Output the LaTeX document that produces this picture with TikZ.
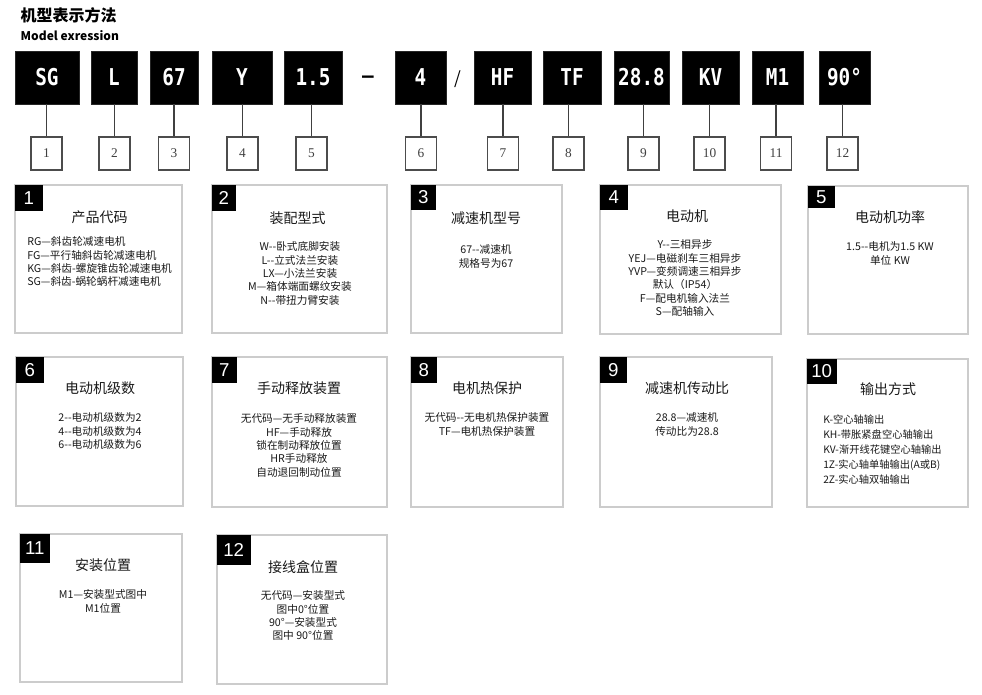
\documentclass[tikz,border=0pt]{standalone}
\usepackage{fontspec}
\usepackage{graphicx}
\newfontfamily\cnfont{Noto Sans CJK SC}
\newfontfamily\codefont{DejaVu Sans Mono}
\newfontfamily\tabfont{Liberation Sans}
\newfontfamily\numfont{Liberation Serif}
\newcommand{\codetxt}[1]{\scalebox{1}[1.2]{#1}}

\begin{document}
\begin{tikzpicture}[x=0.75pt,y=-0.75pt,
    code/.style={fill=black,draw=black!85,text=white,inner sep=0pt,minimum height=39.75pt,
      font=\codefont\bfseries\fontsize{14.5}{16}\selectfont},
    numbox/.style={draw=black!70,line width=0.9pt,fill=white,inner sep=0pt,
      minimum width=23.25pt,minimum height=24.75pt,text=black!75,font=\numfont\fontsize{10}{12}\selectfont},
    link/.style={draw=black!75,line width=0.8pt},
    info/.style={draw=black!20,line width=0.8pt,inner sep=0pt},
    tab/.style={fill=black,text=white,anchor=north west,inner sep=0pt,
      font=\tabfont\fontsize{14}{14}\selectfont},
    head/.style={text=black!90,font=\cnfont\fontsize{10.5}{12}\selectfont},
    body/.style={align=center,anchor=north,inner sep=0pt,text=black!90,
      font=\cnfont\fontsize{8}{10}\selectfont}]
  \useasboundingbox (0,0) rectangle (982,694);

  \node[anchor=west,font=\cnfont\bfseries\fontsize{12}{14}\selectfont] (title) at (16,15.5) {机型表示方法};
  \node[anchor=west,font=\cnfont\bfseries\fontsize{9}{11}\selectfont] (subtitle) at (16,36) {Model exression};

  \node[code,minimum width=48pt] (c1) at (47,77.5) {\codetxt{SG}};
  \node[code,minimum width=34.5pt] (c2) at (114,77.5) {\codetxt{L}};
  \node[code,minimum width=36pt] (c3) at (174,77.5) {\codetxt{67}};
  \node[code,minimum width=45pt] (c4) at (242,77.5) {\codetxt{Y}};
  \node[code,minimum width=43.5pt] (c5) at (313,77.5) {\codetxt{1.5}};
  \node[font=\codefont\bfseries\fontsize{14.5}{16}\selectfont] (dash) at (368,79) {—};
  \node[code,minimum width=38.25pt] (c6) at (420.5,77.5) {\codetxt{4}};
  \node[font=\cnfont\fontsize{13}{14}\selectfont] (slash) at (458,79) {/};
  \node[code,minimum width=42.75pt] (c7) at (502.5,77.5) {\codetxt{HF}};
  \node[code,minimum width=43.5pt] (c8) at (572,77.5) {\codetxt{TF}};
  \node[code,minimum width=41.25pt] (c9) at (641.5,77.5) {\codetxt{28.8}};
  \node[code,minimum width=42.75pt] (c10) at (710.5,77.5) {\codetxt{KV}};
  \node[code,minimum width=38.25pt] (c11) at (777.5,77.5) {\codetxt{M1}};
  \node[code,minimum width=38.25pt] (c12) at (844.5,77.5) {\codetxt{90°}};

  \node[numbox] (n1) at (46.5,153.5) {1};
  \node[numbox] (n2) at (114.5,153.5) {2};
  \node[numbox] (n3) at (174,153.5) {3};
  \node[numbox] (n4) at (242.5,153.5) {4};
  \node[numbox] (n5) at (311.5,153.5) {5};
  \node[numbox] (n6) at (421,153.5) {6};
  \node[numbox] (n7) at (503,153.5) {7};
  \node[numbox] (n8) at (568.5,153.5) {8};
  \node[numbox] (n9) at (643.5,153.5) {9};
  \node[numbox] (n10) at (709.5,153.5) {10};
  \node[numbox] (n11) at (776,153.5) {11};
  \node[numbox] (n12) at (842.5,153.5) {12};

  \foreach \i in {1,...,12}
    \draw[link] (n\i.north) -- (n\i.north |- c\i.south);

  \node[info,minimum width=125.25pt,minimum height=111pt] (b1) at (98.5,259) {};
  \node[tab,minimum width=21pt,minimum height=19.5pt] (t1) at (b1.north west) {1};
  \node[head] (h1) at (99.5,217) {产品代码};
  \node[body,align=left,anchor=north west] (d1) at (27,236.5) {RG—斜齿轮减速电机\\FG—平行轴斜齿轮减速电机\\KG—斜齿-螺旋锥齿轮减速电机\\SG—斜齿-蜗轮蜗杆减速电机};

  \node[info,minimum width=131.25pt,minimum height=111pt] (b2) at (299.5,259) {};
  \node[tab,minimum width=18pt,minimum height=19.5pt] (t2) at (b2.north west) {2};
  \node[head] (h2) at (297.5,218) {装配型式};
  \node[body] (d2) at (300,241.5) {W--卧式底脚安装\\L--立式法兰安装\\LX—小法兰安装\\M—箱体端面螺纹安装\\N--带扭力臂安装};

  \node[info,minimum width=113.25pt,minimum height=111pt] (b3) at (486.5,259) {};
  \node[tab,minimum width=18.75pt,minimum height=18.75pt] (t3) at (b3.north west) {3};
  \node[head] (h3) at (486,218) {减速机型号};
  \node[body] (d3) at (486,244.5) {67--减速机\\规格号为67};

  \node[info,minimum width=135.75pt,minimum height=111.75pt] (b4) at (690.5,259.5) {};
  \node[tab,minimum width=21pt,minimum height=18.75pt] (t4) at (b4.north west) {4};
  \node[head] (h4) at (687,216) {电动机};
  \node[body] (d4) at (685,239.5) {Y--三相异步\\YEJ—电磁刹车三相异步\\YVP—变频调速三相异步\\默认（IP54）\\F—配电机输入法兰\\S—配轴输入};

  \node[info,minimum width=120pt,minimum height=111pt] (b5) at (888,260) {};
  \node[tab,minimum width=20.25pt,minimum height=16.5pt] (t5) at (b5.north west) {5};
  \node[head] (h5) at (890,217) {电动机功率};
  \node[body] (d5) at (890,241.5) {1.5--电机为1.5 KW\\单位 KW};

  \node[info,minimum width=125.25pt,minimum height=111.75pt] (b6) at (99.5,431.5) {};
  \node[tab,minimum width=21pt,minimum height=19.5pt] (t6) at (b6.north west) {6};
  \node[head] (h6) at (100,388) {电动机级数};
  \node[body] (d6) at (100,412.5) {2--电动机级数为2\\4--电动机级数为4\\6--电动机级数为6};

  \node[info,minimum width=131.25pt,minimum height=112.5pt] (b7) at (299.5,432) {};
  \node[tab,minimum width=18.75pt,minimum height=19.5pt] (t7) at (b7.north west) {7};
  \node[head] (h7) at (299,388) {手动释放装置};
  \node[body] (d7) at (299,413.5) {无代码—无手动释放装置\\HF—手动释放\\锁在制动释放位置\\HR手动释放\\自动退回制动位置};

  \node[info,minimum width=114pt,minimum height=112.5pt] (b8) at (487,432) {};
  \node[tab,minimum width=19.5pt,minimum height=19.5pt] (t8) at (b8.north west) {8};
  \node[head] (h8) at (487,388) {电机热保护};
  \node[body] (d8) at (487,412.5) {无代码--无电机热保护装置\\TF—电机热保护装置};

  \node[info,minimum width=129pt,minimum height=112.5pt] (b9) at (686,432) {};
  \node[tab,minimum width=20.25pt,minimum height=19.5pt] (t9) at (b9.north west) {9};
  \node[head] (h9) at (687,388) {减速机传动比};
  \node[body] (d9) at (687,412.5) {28.8—减速机\\传动比为28.8};

  \node[info,minimum width=120.75pt,minimum height=111pt] (b10) at (887.5,433) {};
  \node[tab,minimum width=22.5pt,minimum height=18.75pt] (t10) at (b10.north west) {10};
  \node[head] (h10) at (888,389) {输出方式};
  \node[body,align=left,anchor=north west,font=\cnfont\fontsize{7.7}{11.25}\selectfont] (d10) at (823,414.5)
    {K-空心轴输出\\KH-带胀紧盘空心轴输出\\KV-渐开线花键空心轴输出\\1Z-实心轴单轴输出(A或B)\\2Z-实心轴双轴输出};

  \node[info,minimum width=121.5pt,minimum height=111pt] (b11) at (101,608) {};
  \node[tab,minimum width=22.5pt,minimum height=21.75pt] (t11) at (b11.north west) {11};
  \node[head] (h11) at (103,565) {安装位置};
  \node[body] (d11) at (103,589.5) {M1—安装型式图中\\M1位置};

  \node[info,minimum width=127.5pt,minimum height=111.75pt] (b12) at (302,609.5) {};
  \node[tab,minimum width=25.5pt,minimum height=22.5pt] (t12) at (b12.north west) {12};
  \node[head] (h12) at (303,567) {接线盒位置};
  \node[body] (d12) at (303,590.5) {无代码—安装型式\\图中0°位置\\90°—安装型式\\图中 90°位置};
\end{tikzpicture}
\end{document}
